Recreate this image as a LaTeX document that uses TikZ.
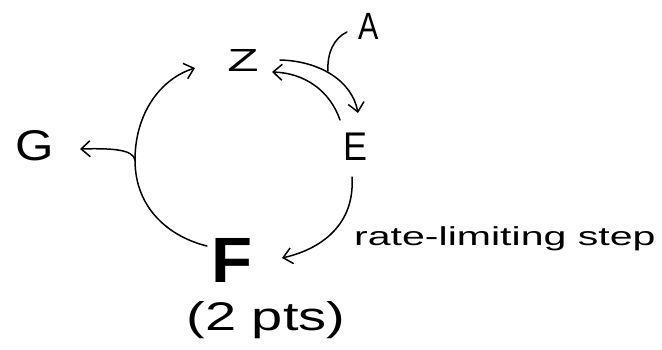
\documentclass[tikz,border=0pt]{standalone}
\usepackage{fontspec}
\setmainfont{Liberation Sans}
\usetikzlibrary{arrows.meta,calc}
\tikzset{
  lbl/.style={inner sep=0pt, anchor=base},
  conn/.style={line width=1.5pt, line cap=round, line join=round},
  arr/.style={conn, -{Straight Barb[length=9pt,width=16pt,line width=1.5pt]}}
}
\begin{document}
\begin{tikzpicture}[x=1pt,y=1pt]
\path[use as bounding box] (0,0) rectangle (662,349);
% labels
\node[lbl] (Z) at (243,277) {\scalebox{1.6}[1]{\fontsize{32}{36}\selectfont Z}};
\node[lbl] (A) at (369,309) {\scalebox{0.8}[1]{\fontsize{38}{44}\selectfont A}};
\node[lbl] (E) at (356,189) {\scalebox{0.9}[1]{\fontsize{40}{46}\selectfont E}};
\node[lbl] (G) at (35,189) {\scalebox{1.15}[1]{\fontsize{43}{50}\selectfont G}};
\node[lbl] (F) at (232,67) {\scalebox{1.05}[1]{\fontsize{64}{70}\selectfont\bfseries F}};
\node[lbl] (pts) at (266,19) {\scalebox{1.4}[1]{\fontsize{40}{46}\selectfont (2 pts)}};
\node[lbl, anchor=base west] (rls) at (354,104) {\scalebox{1.58}[1]{\fontsize{26}{30}\selectfont rate-limiting step}};
% connector ends
\coordinate (ZL) at ($(Z.base)+(-48,4)$);
\coordinate (Zf) at ($(Z.base)+(37,12)$);
\coordinate (Zb) at ($(Z.base)+(29,0)$);
\coordinate (Et) at ($(E.base)+(2,47)$);
\coordinate (Eb) at ($(E.base)+(-16,40)$);
\coordinate (Ed) at ($(E.base)+(-4,-17)$);
\coordinate (Ft) at ($(F.base)+(50,24)$);
\coordinate (Fl) at ($(F.base)+(-25,36)$);
\coordinate (Gt) at ($(G.base)+(45,11)$);
\coordinate (As) at ($(A.base)+(-22,8)$);
\coordinate (join) at (328,278);
\coordinate (left) at (135,189);
% connectors
\draw[arr] (Zf) .. controls (320,288) and (352,268) .. (Et);
\draw[arr] (Eb) .. controls (330,258) and (305,276) .. (Zb);
\draw[conn] (As) .. controls (334,311) and (327,296) .. (join);
\draw[arr] (Ed) .. controls (355,125) and (322,100) .. (Ft);
\draw[conn] (Fl) .. controls (170,112) and (135,140) .. (left);
\draw[arr] (left) .. controls (135,235) and (160,270) .. (ZL);
\draw[arr] (left) .. controls (133,199) and (115,201) .. (Gt);
\end{tikzpicture}
\end{document}
